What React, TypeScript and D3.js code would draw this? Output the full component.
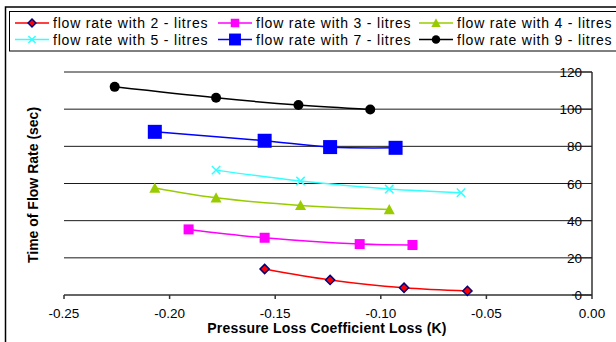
import * as d3 from "d3";

// pressure loss coefficient (K) and time of flow (sec)
const k2 = [-0.155, -0.124, -0.089, -0.059];
const t2 = [14.0, 8.1, 3.9, 2.2];
const k3 = [-0.191, -0.155, -0.110, -0.085];
const t3 = [35.3, 30.8, 27.4, 26.9];
const k4 = [-0.207, -0.178, -0.138, -0.096];
const t4 = [57.6, 52.3, 48.2, 46.0];
const k5 = [-0.178, -0.138, -0.096, -0.062];
const t5 = [67.2, 61.3, 57.0, 55.0];
const k7 = [-0.207, -0.155, -0.124, -0.093];
const t7 = [87.8, 83.0, 79.6, 79.2];
const k9 = [-0.226, -0.178, -0.139, -0.105];
const t9 = [112.0, 106.1, 102.2, 99.8];

const xTicks = [-0.25, -0.2, -0.15, -0.1, -0.05, 0];
const yTicks = [0, 20, 40, 60, 80, 100, 120];

type Marker = "diamond" | "square" | "triangle" | "times" | "bigsquare" | "circle";

const series = [
  { name: "flow rate with 2 - litres", k: k2, t: t2, color: "#ff0000", marker: "diamond" as Marker },
  { name: "flow rate with 3 - litres", k: k3, t: t3, color: "#ff00ff", marker: "square" as Marker },
  { name: "flow rate with 4 - litres", k: k4, t: t4, color: "#99cc00", marker: "triangle" as Marker },
  { name: "flow rate with 5 - litres", k: k5, t: t5, color: "#33ffff", marker: "times" as Marker },
  { name: "flow rate with 7 - litres", k: k7, t: t7, color: "#0000ff", marker: "bigsquare" as Marker },
  { name: "flow rate with 9 - litres", k: k9, t: t9, color: "#000000", marker: "circle" as Marker },
];

function MarkerShape({ type, x, y, color, s }: { type: Marker; x: number; y: number; color: string; s: number }) {
  if (type === "diamond") {
    const r = 4.6 * s;
    return (
      <path
        d={`M${x},${y - r}L${x + r},${y}L${x},${y + r}L${x - r},${y}Z`}
        fill="#ff0000"
        stroke="#000080"
        strokeWidth={1.5}
      />
    );
  }
  if (type === "square" || type === "bigsquare") {
    const h = (type === "square" ? 5 : 7) * s;
    return <rect x={x - h} y={y - h} width={2 * h} height={2 * h} fill={color} />;
  }
  if (type === "triangle") {
    const h = 5.5 * s;
    return <path d={`M${x},${y - h}L${x + h},${y + h * 0.85}L${x - h},${y + h * 0.85}Z`} fill={color} />;
  }
  if (type === "times") {
    const h = 4.2 * s;
    return (
      <path
        d={`M${x - h},${y - h}L${x + h},${y + h}M${x - h},${y + h}L${x + h},${y - h}`}
        stroke={color}
        strokeWidth={1.5}
        fill="none"
      />
    );
  }
  return <circle cx={x} cy={y} r={5 * s} fill={color} />;
}

export default function App() {
  const width = 616;
  const height = 342;
  const x = d3.scaleLinear().domain([-0.25, 0]).range([64, 592]);
  const y = d3.scaleLinear().domain([0, 120]).range([295, 72]);
  const line = d3
    .line<[number, number]>()
    .x((d) => x(d[0]))
    .y((d) => y(d[1]))
    .curve(d3.curveCatmullRom.alpha(0.5));

  const font = "'Liberation Sans', Arial, sans-serif";
  const legendCols = [15, 218, 419];

  return (
    <svg
      width={width}
      height={height}
      style={{ position: "absolute", left: 0, top: 0, background: "#fff" }}
      fontFamily={font}
    >
      <rect x={0} y={0} width={width} height={height} fill="#fff" />
      {/* outer frame */}
      <rect x={5.5} y={7} width={width + 10} height={height + 10} fill="none" stroke="#000" strokeWidth={1.5} />

      {/* legend */}
      <rect x={9.5} y={11.5} width={width + 10} height={39.5} fill="#fff" stroke="#000" strokeWidth={1} />
      {series.map((s, i) => {
        const col = i % 3;
        const row = Math.floor(i / 3);
        const lx = legendCols[col];
        const ly = 23 + row * 16.5;
        return (
          <g key={s.name}>
            <line x1={lx} x2={lx + 34} y1={ly} y2={ly} stroke={s.color} strokeWidth={1.5} />
            <MarkerShape type={s.marker} x={lx + 17} y={ly} color={s.color} s={0.85} />
            <text x={lx + 38} y={ly + 5} fontSize={14} letterSpacing={0.8} fill="#000">
              {s.name}
            </text>
          </g>
        );
      })}

      {/* gridlines */}
      {yTicks.slice(1).map((t) => (
        <line key={t} x1={64} x2={592} y1={y(t)} y2={y(t)} stroke="#1a1a1a" strokeWidth={1} />
      ))}

      {/* x axis */}
      <line x1={64} x2={592} y1={295} y2={295} stroke="#333" strokeWidth={1.5} />
      {xTicks.map((t) => (
        <g key={t}>
          <line x1={x(t)} x2={x(t)} y1={295} y2={299} stroke="#333" strokeWidth={1.5} />
          <text x={x(t)} y={318} fontSize={13.5} textAnchor="middle" fill="#000">
            {d3.format(".2f")(t).replace("−", "-")}
          </text>
        </g>
      ))}

      {/* y axis on the right */}
      <line x1={592} x2={592} y1={72} y2={295} stroke="#333" strokeWidth={1.5} />
      {yTicks.map((t) => (
        <g key={t}>
          <text x={582} y={y(t) + 5} fontSize={13.5} textAnchor="end" fill="#000">
            {t}
          </text>
          <line x1={572} x2={592} y1={y(t)} y2={y(t)} stroke="#222" strokeWidth={1} />
        </g>
      ))}

      {/* series */}
      {series.map((s) => {
        const pts = s.k.map((k, i) => [k, s.t[i]] as [number, number]);
        return (
          <g key={s.name}>
            <path d={line(pts) ?? ""} fill="none" stroke={s.color} strokeWidth={1.5} />
            {pts.map((p, i) => (
              <MarkerShape key={i} type={s.marker} x={x(p[0])} y={y(p[1])} color={s.color} s={1} />
            ))}
          </g>
        );
      })}

      {/* axis titles */}
      <text x={327} y={333} fontSize={14} fontWeight="bold" letterSpacing={0.2} textAnchor="middle" fill="#000">
        Pressure Loss Coefficient Loss (K)
      </text>
      <text
        transform={`translate(38,185) rotate(-90)`}
        fontSize={14}
        fontWeight="bold"
        textAnchor="middle"
        fill="#000"
      >
        Time of Flow Rate (sec)
      </text>
    </svg>
  );
}
